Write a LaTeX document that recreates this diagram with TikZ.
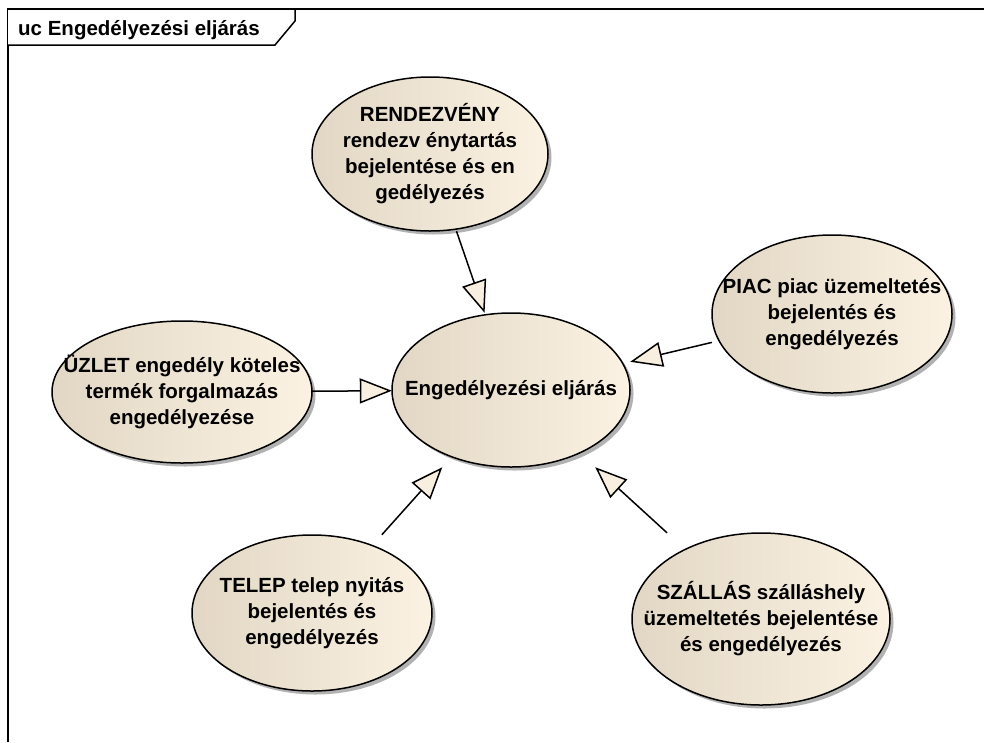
\documentclass[tikz,border=0pt]{standalone}
\usepackage{fontspec}
\setmainfont{Liberation Sans}
\usetikzlibrary{arrows.meta}
\definecolor{ucleft}{RGB}{226,215,196}
\definecolor{ucright}{RGB}{251,242,227}
\definecolor{tipfill}{RGB}{249,239,224}
\tikzset{
  ucfill/.style={left color=ucleft, right color=ucright, draw=black, line width=1.5pt},
  ucshadow/.style={fill=black!30},
  ucbox/.style={rectangle, inner sep=0pt, align=center,
    font=\fontsize{20.5}{26}\selectfont\bfseries},
  gen/.style={draw=black, line width=1.5pt,
    -{Triangle[length=32pt,width=25pt,fill=tipfill]}},
  frameline/.style={draw=black, line width=1.5pt},
  hdrtext/.style={anchor=base west, inner sep=0pt,
    font=\fontsize{20.5}{24}\selectfont\bfseries}
}
% name, x, y, rx, ry, text
\newcommand\ucnode[6]{%
  \fill[ucshadow] (#2pt+3.5pt,-#3pt-3.5pt) ellipse [x radius=#4pt, y radius=#5pt];
  \path[ucfill] (#2pt,-#3pt) ellipse [x radius=#4pt, y radius=#5pt];
  \node[ucbox, minimum width={2*#4pt}, minimum height={2*#5pt}] (#1) at (#2pt,-#3pt) {#6};
}
\begin{document}
\begin{tikzpicture}
\useasboundingbox (0pt,0pt) rectangle (984pt,-742pt);
% frame
\draw[frameline] (8pt,-742pt) -- (8pt,-9pt) -- (984pt,-9pt);
\draw[frameline, fill=white] (8pt,-9pt) -- (295pt,-9pt) -- (295pt,-21pt) -- (275pt,-45pt) -- (8pt,-45pt);
\node[hdrtext] (hdr) at (18pt,-35pt) {uc Engedélyezési eljárás};
% use cases
\ucnode{r}{430}{154}{118}{77}{RENDEZVÉNY\\rendezv énytartás\\bejelentése és en\\gedélyezés}
\ucnode{c}{511}{390}{119}{77}{Engedélyezési eljárás}
\ucnode{p}{832}{314}{120}{79}{PIAC piac üzemeltetés\\bejelentés és\\engedélyezés}
\ucnode{u}{182}{392}{130}{71}{ÜZLET engedély köteles\\termék forgalmazás\\engedélyezése}
\ucnode{t}{312}{613}{120}{78}{TELEP telep nyitás\\bejelentés és\\engedélyezés}
\ucnode{s}{761}{619}{129}{86}{SZÁLLÁS szálláshely\\üzemeltetés bejelentése\\és engedélyezés}
% generalizations
\draw[gen] (r) -- (c);
\draw[gen] (p) -- (c);
\draw[gen] (u) -- (c);
\draw[gen] (t) -- (c);
\draw[gen] (s) -- (c);
\end{tikzpicture}
\end{document}
